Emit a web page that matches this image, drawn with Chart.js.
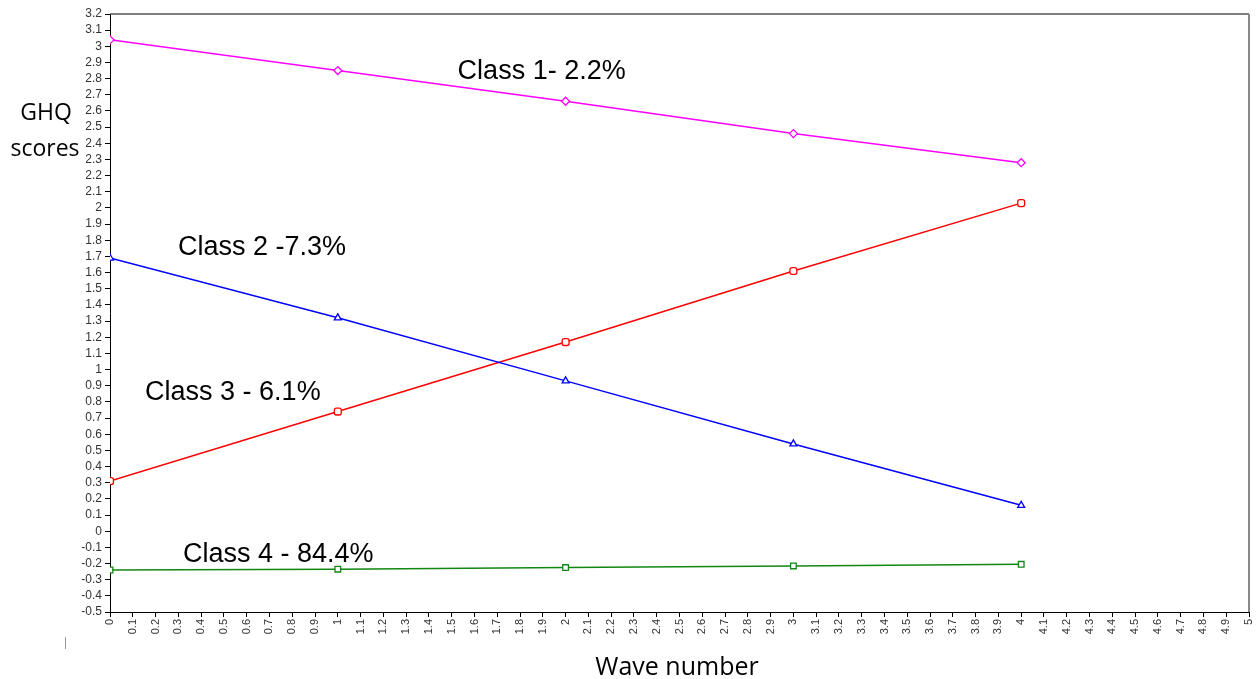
<!DOCTYPE html>
<html>
<head>
<meta charset="utf-8">
<script src="https://cdn.jsdelivr.net/npm/chart.js@4/dist/chart.umd.min.js"></script>
<style>
  html, body { margin: 0; padding: 0; background: #fff; }
  #wrap { width: 1256px; height: 679px; }
</style>
</head>
<body>
<div id="wrap"><canvas id="c" width="1256" height="679"></canvas></div>
<script>
// Wave numbers and mean GHQ scores for each latent class
const waves = [0, 1, 2, 3, 4];
const class1 = [3.04, 2.85, 2.66, 2.46, 2.28];
const class2 = [1.69, 1.32, 0.93, 0.54, 0.16];
const class3 = [0.31, 0.74, 1.17, 1.61, 2.03];
const class4 = [-0.24, -0.235, -0.225, -0.215, -0.205];
const classLabels = ['Class 1- 2.2%', 'Class 2 -7.3%', 'Class 3 - 6.1%', 'Class 4 - 84.4%'];

// Axis ranges
const xRange = [0, 5, 0.1];
const yRange = [-0.5, 3.2, 0.1];

// Where each class label sits (data coordinates of the text's left/baseline)
const labelAnchors = [
  { x: 1.526, y: 2.80 },
  { x: 0.298, y: 1.71 },
  { x: 0.154, y: 0.81 },
  { x: 0.320, y: -0.19 }
];

const seriesStyles = [
  { color: '#ff00ff', point: 'rectRot', radius: 4 },
  { color: '#0000ff', point: 'triangle', radius: 4 },
  { color: '#ff0000', point: 'rectRounded', radius: 4 },
  { color: '#118811', point: 'rect', radius: 4 }
];

const seriesValues = [class1, class2, class3, class4];

const fmt = v => {
  const r = Math.round(v * 10) / 10;
  return Number.isInteger(r) ? String(r) : r.toFixed(1);
};

const datasets = seriesValues.map((vals, i) => ({
  label: classLabels[i],
  data: waves.map((w, j) => ({ x: w, y: vals[j] })),
  borderColor: seriesStyles[i].color,
  backgroundColor: '#ffffff',
  pointBorderColor: seriesStyles[i].color,
  pointBackgroundColor: '#ffffff',
  pointStyle: seriesStyles[i].point,
  pointRadius: seriesStyles[i].radius,
  pointBorderWidth: 1.3,
  borderWidth: 1.5,
  tension: 0,
  clip: { left: 0, top: 8, right: 8, bottom: 8 }
}));

const decorations = {
  id: 'decorations',
  afterDraw(chart) {
    const { ctx, chartArea: a, scales } = chart;
    ctx.save();
    // frame on top and right
    ctx.strokeStyle = '#555';
    ctx.lineWidth = 1.5;
    ctx.beginPath();
    ctx.moveTo(a.left, a.top);
    ctx.lineTo(a.right, a.top);
    ctx.stroke();
    ctx.strokeStyle = '#888';
    ctx.lineWidth = 2;
    ctx.beginPath();
    ctx.moveTo(a.right, a.top);
    ctx.lineTo(a.right, a.bottom);
    ctx.stroke();

    // class labels
    ctx.fillStyle = '#000';
    ctx.font = '27px "Liberation Sans", Arial, sans-serif';
    ctx.textAlign = 'left';
    ctx.textBaseline = 'alphabetic';
    classLabels.forEach((t, i) => {
      const p = labelAnchors[i];
      ctx.fillText(t, scales.x.getPixelForValue(p.x), scales.y.getPixelForValue(p.y));
    });

    // axis titles
    ctx.font = '23px "Open Sans", sans-serif';
    ctx.textAlign = 'center';
    ctx.fillText('GHQ', 46, 120);
    ctx.fillText('scores', 45, 156);
    ctx.font = '25px "Open Sans", sans-serif';
    ctx.fillText('Wave number', 677, 675);

    // small mark below the axis corner
    ctx.strokeStyle = '#999';
    ctx.lineWidth = 1;
    ctx.beginPath();
    ctx.moveTo(65.5, 637);
    ctx.lineTo(65.5, 649);
    ctx.stroke();
    ctx.restore();
  }
};

new Chart(document.getElementById('c'), {
  type: 'line',
  data: { datasets },
  options: {
    responsive: false,
    animation: false,
    devicePixelRatio: 1,
    layout: { padding: { left: 0, top: 14, right: 7, bottom: 0 } },
    plugins: { legend: { display: false }, tooltip: { enabled: false } },
    scales: {
      x: {
        type: 'linear',
        min: xRange[0], max: xRange[1],
        grid: { drawOnChartArea: false, drawTicks: true, tickLength: 5, color: '#000' },
        border: { display: true, color: '#000', width: 1 },
        ticks: {
          stepSize: xRange[2], autoSkip: false,
          minRotation: 90, maxRotation: 90, padding: 2,
          color: '#333',
          font: { family: '"Liberation Sans", Arial, sans-serif', size: 11 },
          callback: v => fmt(v)
        },
        afterFit(s) { s.height = 67; s.paddingLeft = 0; s.paddingRight = 0; }
      },
      y: {
        type: 'linear',
        min: yRange[0], max: yRange[1],
        grid: { drawOnChartArea: false, drawTicks: true, tickLength: 5, color: '#000' },
        border: { display: true, color: '#000', width: 1 },
        ticks: {
          stepSize: yRange[2], autoSkip: false, padding: 3,
          color: '#333',
          font: { family: '"Liberation Sans", Arial, sans-serif', size: 12 },
          callback: v => fmt(v)
        },
        afterFit(s) { s.width = 110; s.paddingTop = 0; s.paddingBottom = 0; }
      }
    }
  },
  plugins: [decorations]
});
</script>
</body>
</html>
